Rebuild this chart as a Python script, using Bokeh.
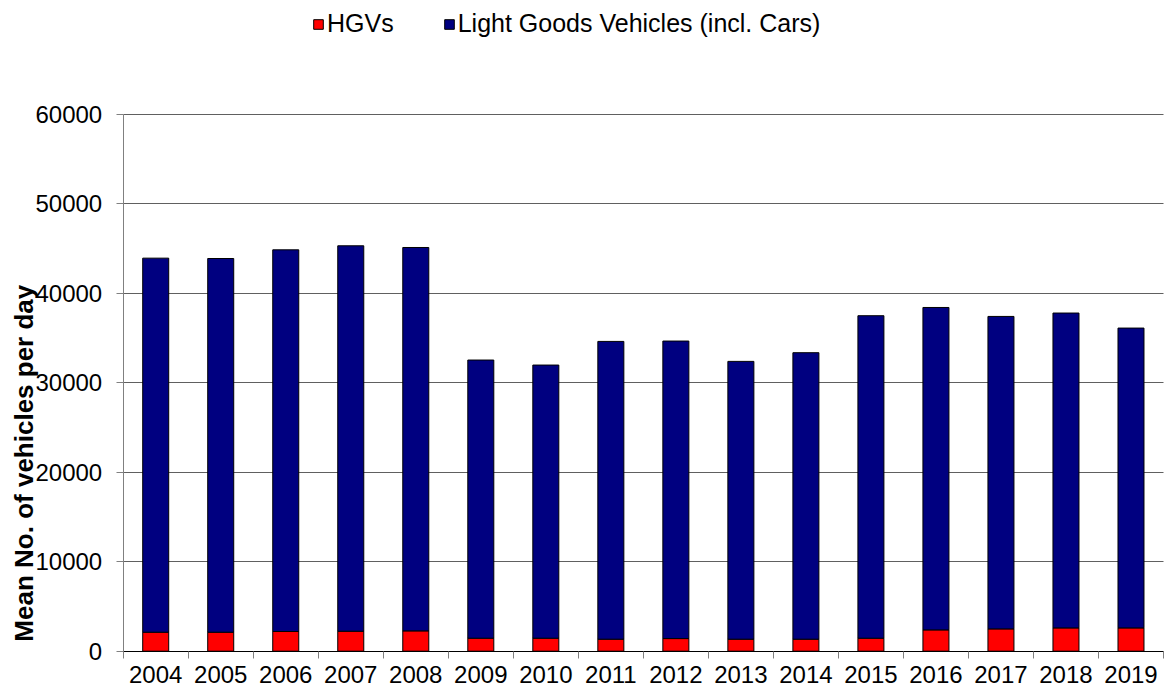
import math
from bokeh.plotting import figure
from bokeh.models import (ColumnDataSource, Range1d, FixedTicker, Legend, LegendItem,
                          Label, NumeralTickFormatter, LinearAxis, Grid, BoxAnnotation)
from bokeh.embed import file_html
from bokeh.resources import INLINE

# ---- data ----
years = [2004, 2005, 2006, 2007, 2008, 2009, 2010, 2011,
         2012, 2013, 2014, 2015, 2016, 2017, 2018, 2019]
hgvs = [2120, 2120, 2200, 2230, 2270, 1450, 1450, 1340,
        1410, 1340, 1340, 1450, 2380, 2490, 2600, 2600]
light_goods = [41780, 41740, 42630, 43050, 42820, 31070, 30510, 33260,
               33230, 31030, 32000, 36020, 36010, 34900, 35170, 33490]
series_names = ["HGVs", "Light Goods Vehicles (incl. Cars)"]
series_colors = ["#FF0000", "#000080"]
y_ticks = [0, 10000, 20000, 30000, 40000, 50000, 60000]
y_title = "Mean No. of vehicles per day"

FONT = "Liberation Sans"
W, H = 1170, 693

# plot-area placement on the canvas (pixels)
FX0, FX1 = 122.7, 1163.0        # left / right of category area
FY_TOP, FY_ZERO = 113.5, 650.7  # y of 60000 and of 0

x_lo, x_hi = years[0] - 0.5, years[-1] + 0.5
ppx = (FX1 - FX0) / (x_hi - x_lo)
y_max = y_ticks[-1]
ppy = (FY_ZERO - FY_TOP) / y_max

x_range = Range1d(x_lo - FX0 / ppx, x_hi + (W - FX1) / ppx)
y_range = Range1d(-(H - FY_ZERO) / ppy, y_max + FY_TOP / ppy)

source = ColumnDataSource(data=dict(year=years, hgv=hgvs, lgv=light_goods))

p = figure(width=W, height=H, output_backend="svg", toolbar_location=None,
           x_range=x_range, y_range=y_range, x_axis_location=None, y_axis_location=None,
           min_border=0)
p.min_border_left = p.min_border_right = p.min_border_top = p.min_border_bottom = 0
p.outline_line_color = None
p.background_fill_color = "white"
p.border_fill_color = "white"
p.xgrid.grid_line_color = None
p.ygrid.grid_line_color = None

renderers = p.vbar_stack(["hgv", "lgv"], x="year", width=0.4, source=source,
                         color=series_colors, line_color="black", line_width=1)

# horizontal gridlines, only across the category area
ygrid = Grid(dimension=1, ticker=FixedTicker(ticks=y_ticks),
             grid_line_color="#606060", grid_line_width=1)
p.add_layout(ygrid)
if "cross_bounds" in ygrid.properties():
    ygrid.cross_bounds = (x_lo, x_hi)
else:
    p.add_layout(BoxAnnotation(left=x_range.start - 1, right=x_lo,
                               bottom=y_range.start - 1000, top=y_range.end + 1000,
                               fill_color="white", fill_alpha=1.0,
                               line_color=None, level="underlay"))

# y axis (fixed at the left edge of the category area)
yaxis = LinearAxis(ticker=FixedTicker(ticks=y_ticks), formatter=NumeralTickFormatter(format="0"),
                   fixed_location=x_lo, bounds=(0, y_max))
yaxis.axis_line_color = "#808080"
yaxis.major_tick_line_color = "#808080"
yaxis.major_tick_out = 7
yaxis.major_tick_in = 0
yaxis.minor_tick_line_color = None
yaxis.major_label_text_font = FONT
yaxis.major_label_text_font_size = "24px"
yaxis.major_label_text_color = "black"
yaxis.major_label_standoff = 14
p.add_layout(yaxis, "left")

# x axis: labels at centres, tick marks between categories
xaxis = LinearAxis(ticker=FixedTicker(ticks=years,
                                      minor_ticks=[y - 0.5 for y in years] + [x_hi]),
                   fixed_location=0, bounds=(x_lo, x_hi))
xaxis.major_tick_line_color = None
xaxis.major_tick_out = 0
xaxis.major_tick_in = 0
xaxis.minor_tick_line_color = "#808080"
xaxis.minor_tick_out = 7
xaxis.minor_tick_in = 0
xaxis.axis_line_color = "black"
xaxis.major_label_text_font = FONT
xaxis.major_label_text_font_size = "24px"
xaxis.major_label_text_color = "black"
xaxis.major_label_standoff = 8
p.add_layout(xaxis, "below")

# y title (overlapping the tick labels as in the reference)
title_lbl = Label(x=x_lo - (FX0 - 23) / ppx, y=21000, text=y_title, angle=math.pi / 2,
                  text_align="center", text_baseline="middle",
                  text_font=FONT, text_font_style="bold", text_font_size="26px",
                  text_color="black")
p.add_layout(title_lbl)

# legend at the top
legend = Legend(items=[LegendItem(label=series_names[i], renderers=[renderers[i]])
                       for i in range(2)],
                location=(312, H - 38), orientation="horizontal",
                glyph_width=12, glyph_height=12, label_standoff=3, spacing=49,
                padding=0, margin=0, border_line_color=None,
                background_fill_alpha=0,
                label_text_font=FONT, label_text_font_size="25px",
                label_text_color="black")
p.add_layout(legend)

open("out.html", "w").write(file_html(p, INLINE))
